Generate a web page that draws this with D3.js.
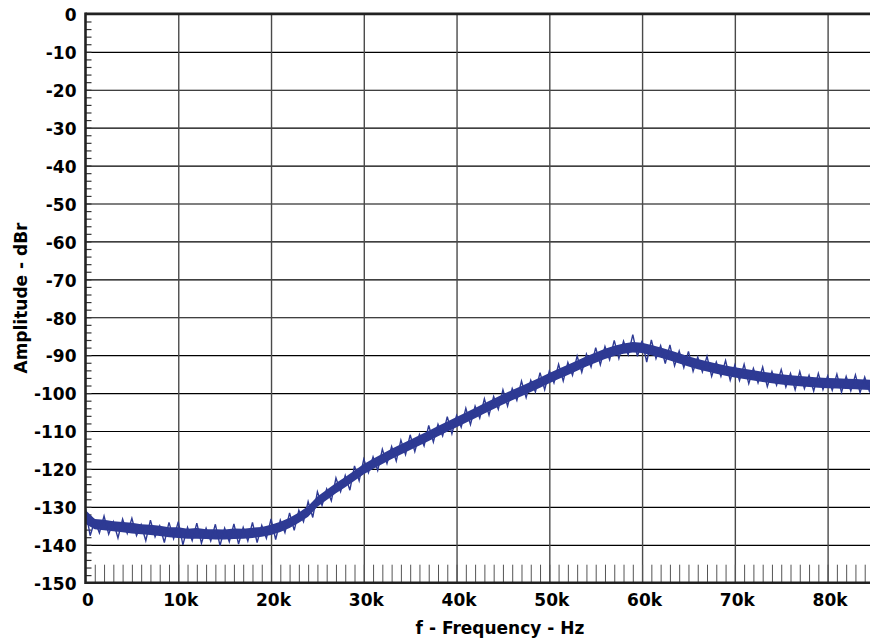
<!DOCTYPE html>
<html lang="en">
<head>
  <meta charset="UTF-8">
  <title>Amplitude vs frequency</title>
  <style>
    body { margin: 0; background: #fff; }
    svg { display: block; }
  </style>
</head>
<body>
  <svg id="chart" width="870" height="642"></svg>

  <script src="https://cdnjs.cloudflare.com/ajax/libs/d3/7.8.5/d3.min.js"></script>
  <script>

// dense core of the noisy trace (dBr), upper / lower edge every 1 kHz
let coreHi = [
  -130.8, -133.2, -133.4, -133.8, -134.0, -134.2, -134.6, -134.7, -135.0, -135.4,
  -135.4, -135.8, -135.6, -135.9, -135.9, -136.0, -135.7, -135.8, -135.5, -135.3,
  -134.7, -133.9, -132.9, -131.5, -129.8, -127.3, -125.5, -123.7, -122.1, -120.4,
  -118.7, -117.3, -116.0, -114.7, -113.5, -112.3, -111.1, -109.9, -108.7, -107.5,
  -106.3, -105.1, -103.9, -102.7, -101.5, -100.3, -99.2, -98.1, -97.0, -95.9,
  -94.7, -93.6, -92.5, -91.4, -90.3, -89.3, -88.3, -87.5, -86.9, -86.5,
  -86.7, -87.3, -88.0, -88.7, -89.5, -90.3, -91.0, -91.6, -92.2, -92.7,
  -93.2, -93.6, -94.0, -94.4, -94.7, -95.0, -95.3, -95.5, -95.7, -95.9,
  -96.0, -96.1, -96.2, -96.3, -96.4, -96.5
];
let coreLo = [
  -134.5, -135.9, -136.2, -136.4, -136.7, -137.0, -137.2, -137.4, -137.7, -138.0,
  -138.2, -138.4, -138.4, -138.5, -138.6, -138.6, -138.5, -138.4, -138.2, -137.9,
  -137.4, -136.6, -135.6, -134.2, -132.6, -130.0, -128.2, -126.4, -124.8, -123.1,
  -121.4, -120.0, -118.7, -117.4, -116.2, -115.0, -113.8, -112.6, -111.4, -110.2,
  -109.0, -107.8, -106.6, -105.4, -104.2, -103.0, -101.9, -100.8, -99.7, -98.6,
  -97.4, -96.3, -95.2, -94.1, -93.0, -92.0, -91.0, -90.2, -89.6, -89.3,
  -89.4, -90.0, -90.7, -91.4, -92.2, -93.0, -93.7, -94.3, -94.9, -95.4,
  -95.9, -96.3, -96.7, -97.1, -97.4, -97.7, -98.0, -98.2, -98.4, -98.6,
  -98.7, -98.8, -98.9, -99.0, -99.1, -99.2
];
let coreHz = d3.range(0, 85001, 1000);

// spikes of the trace (dBr), one reading every 0.5 kHz, alternating peak / trough
let ampDb = [
  -130.5, -137.6, -133.6, -136.9, -132.4, -137.2, -133.9, -138.2, -133.2, -137.0,
  -133.0, -137.6, -134.7, -138.9, -133.5, -137.9, -135.0, -139.4, -134.1, -138.4,
  -133.9, -140.0, -135.4, -138.9, -134.3, -139.6, -135.6, -139.0, -134.6, -140.2,
  -135.6, -139.2, -134.5, -139.8, -135.4, -139.0, -134.1, -139.4, -134.9, -138.3,
  -133.2, -138.6, -133.5, -136.8, -131.6, -136.2, -130.9, -133.9, -128.6, -132.8,
  -126.0, -129.6, -125.3, -128.4, -122.4, -126.0, -121.7, -125.6, -119.2, -123.1,
  -117.4, -121.0, -116.8, -120.4, -114.8, -118.6, -114.1, -117.9, -112.4, -116.2,
  -111.0, -115.4, -110.9, -113.9, -108.5, -112.9, -108.2, -111.3, -106.2, -110.7,
  -105.9, -109.0, -104.0, -108.3, -103.4, -106.6, -101.5, -105.8, -100.9, -104.3,
  -99.1, -103.4, -98.8, -101.9, -96.8, -101.2, -96.6, -99.7, -94.6, -99.1,
  -94.2, -97.3, -92.4, -96.8, -91.9, -95.3, -90.2, -94.5, -89.7, -93.1,
  -88.0, -92.5, -87.7, -91.2, -86.1, -90.9, -86.3, -89.9, -84.6, -90.3,
  -86.2, -91.8, -86.0, -90.9, -87.5, -92.2, -87.3, -92.8, -88.9, -93.3,
  -89.0, -94.3, -90.5, -94.4, -90.3, -95.6, -91.8, -95.6, -91.4, -96.6,
  -92.6, -96.7, -92.4, -97.5, -93.5, -97.3, -93.1, -98.3, -94.3, -97.9,
  -93.8, -98.4, -94.8, -99.1, -94.3, -98.8, -95.3, -99.5, -94.8, -99.1,
  -95.5, -99.3, -95.0, -99.8, -95.6, -99.4, -95.2, -99.9, -95.8, -99.5,
  -95.4
];
let freqHz = d3.range(0, 85001, 500);

let yTicks = d3.range(0, -151, -10);           // 0 .. -150
let xTicks = d3.range(0, 80001, 10000);        // 0 .. 80k
let xTickLabels = ["0", "10k", "20k", "30k", "40k", "50k", "60k", "70k", "80k"];

let margin = {top: 13.9, right: 0, bottom: 59.3, left: 85.5};
let width = 870, height = 642;
let font = "'DejaVu Sans', 'Liberation Sans', Arial, sans-serif";
let traceColor = "#2e3a94";

let svg = d3.select("#chart");

let x = d3.scaleLinear()
    .domain([0, 84570])
    .range([margin.left, width - margin.right]);

let y = d3.scaleLinear()
    .domain([0, -150])
    .range([margin.top, height - margin.bottom]);

let plotW = x.range()[1] - x.range()[0];
let plotH = y.range()[1] - y.range()[0];

svg.append("clipPath").attr("id", "clip")
  .append("rect")
    .attr("x", x.range()[0]).attr("y", y.range()[0])
    .attr("width", plotW).attr("height", plotH);

// horizontal grid (black)
svg.append("g")
    .attr("transform", `translate(${x.range()[0]},0)`)
    .call(d3.axisLeft(y).tickValues(yTicks.slice(1, -1)).tickSize(-plotW).tickFormat(""))
    .call(g => g.select(".domain").remove())
    .call(g => g.selectAll("line").attr("stroke", "#000").attr("stroke-width", 1.2));

// vertical grid (grey)
svg.append("g")
    .attr("transform", `translate(0,${y.range()[1]})`)
    .call(d3.axisBottom(x).tickValues(xTicks.slice(1)).tickSize(-plotH).tickFormat(""))
    .call(g => g.select(".domain").remove())
    .call(g => g.selectAll("line").attr("stroke", "#4a4a4a").attr("stroke-width", 1.4));

// minor x ticks every 1 kHz, pointing up from the bottom
svg.append("g")
    .attr("transform", `translate(0,${y.range()[1]})`)
    .call(d3.axisBottom(x).tickValues(d3.range(1000, 85000, 1000)).tickSize(-18).tickFormat(""))
    .call(g => g.select(".domain").remove())
    .call(g => g.selectAll("line").attr("stroke", "#555").attr("stroke-width", 1));

// minor y ticks every 2 dB
svg.append("g")
    .attr("transform", `translate(${x.range()[0]},0)`)
    .call(d3.axisLeft(y).tickValues(d3.range(-2, -150, -2)).tickSize(-6).tickFormat(""))
    .call(g => g.select(".domain").remove())
    .call(g => g.selectAll("line").attr("stroke", "#333").attr("stroke-width", 1.2));

// the trace: solid core band, then the spikes on top
let band = d3.area()
    .x((d, i) => x(coreHz[i]))
    .y0((d, i) => y(coreLo[i]))
    .y1((d, i) => y(coreHi[i]));

svg.append("path")
    .datum(coreHz)
    .attr("clip-path", "url(#clip)")
    .attr("fill", traceColor)
    .attr("d", band);

let line = d3.line()
    .x((d, i) => x(freqHz[i]))
    .y(d => y(d));

svg.append("path")
    .datum(ampDb)
    .attr("clip-path", "url(#clip)")
    .attr("fill", "none")
    .attr("stroke", traceColor)
    .attr("stroke-width", 1.4)
    .attr("stroke-linejoin", "miter")
    .attr("d", line);

// frame: left, top, bottom
let frame = svg.append("g").attr("stroke", "#222").attr("stroke-width", 2.6).attr("fill", "none");
frame.append("line").attr("x1", x.range()[0]).attr("x2", x.range()[0]).attr("y1", y.range()[0] - 1.3).attr("y2", y.range()[1] + 1.3);
frame.append("line").attr("x1", x.range()[0]).attr("x2", width).attr("y1", y.range()[0]).attr("y2", y.range()[0]);
frame.append("line").attr("x1", x.range()[0]).attr("x2", width).attr("y1", y.range()[1]).attr("y2", y.range()[1]);

// tick labels
svg.append("g")
    .attr("transform", `translate(${x.range()[0]},0)`)
    .call(d3.axisLeft(y).tickValues(yTicks).tickSize(0).tickPadding(9).tickFormat(d => String(d)))
    .call(g => g.select(".domain").remove())
    .call(g => g.attr("font-family", font).attr("font-size", 17).attr("font-weight", "bold"))
    .call(g => g.selectAll("text").attr("fill", "#000").attr("dy", "0.4em"));

svg.append("g")
    .attr("transform", `translate(2,${y.range()[1]})`)
    .call(d3.axisBottom(x).tickValues(xTicks).tickSize(0).tickPadding(11).tickFormat((d, i) => xTickLabels[i]))
    .call(g => g.select(".domain").remove())
    .call(g => g.attr("font-family", font).attr("font-size", 17).attr("font-weight", "bold"))
    .call(g => g.selectAll("text").attr("fill", "#000"));

// axis titles
svg.append("text")
    .attr("x", 500).attr("y", 634)
    .attr("text-anchor", "middle")
    .attr("font-family", font).attr("font-size", 17).attr("font-weight", "bold")
    .text("f - Frequency - Hz");

svg.append("text")
    .attr("transform", "translate(27,298) rotate(-90)")
    .attr("text-anchor", "middle")
    .attr("font-family", font).attr("font-size", 17).attr("font-weight", "bold")
    .text("Amplitude - dBr");

  </script>
</body>
</html>
